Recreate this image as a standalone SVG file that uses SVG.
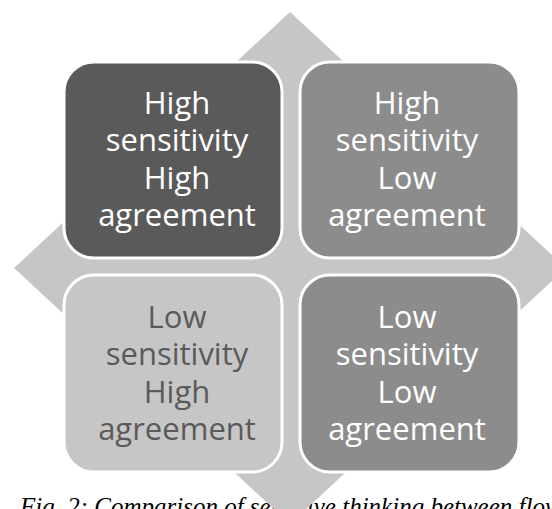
<svg xmlns="http://www.w3.org/2000/svg" width="552" height="509" viewBox="0 0 552 509">
<style>
.box{stroke:#ffffff;stroke-width:3}
.t{font-family:"Open Sans","Noto Sans",sans-serif;font-size:31px;text-anchor:middle}
.w{fill:#ffffff}
.g{fill:#5a5a5a}
.cap{font-family:"Liberation Serif",serif;font-style:italic;font-size:25px;fill:#000000}
</style>
<rect width="552" height="509" fill="#ffffff"/>
<text class="cap" x="20" y="515">Fig. 2: Comparison of sensitive thinking between flows</text>
<g id="connectors">
<polygon points="290,12 566,268 290,524 14,268" fill="#c6c6c6"/>
</g>
<g id="node-tl">
<rect class="box" x="64" y="62" width="218" height="196" rx="30" fill="#5a5a5a"/>
<text class="t w" x="177"><tspan x="177" y="114">High</tspan><tspan x="177" y="151">sensitivity</tspan><tspan x="177" y="189">High</tspan><tspan x="177" y="226">agreement</tspan></text>
</g>
<g id="node-tr">
<rect class="box" x="300" y="62" width="219" height="196" rx="30" fill="#8c8c8c"/>
<text class="t w" x="407"><tspan x="407" y="114">High</tspan><tspan x="407" y="151">sensitivity</tspan><tspan x="407" y="189">Low</tspan><tspan x="407" y="226">agreement</tspan></text>
</g>
<g id="node-bl">
<rect class="box" x="64" y="275" width="218" height="197" rx="30" fill="#c6c6c6"/>
<text class="t g" x="177"><tspan x="177" y="328">Low</tspan><tspan x="177" y="365">sensitivity</tspan><tspan x="177" y="403">High</tspan><tspan x="177" y="440">agreement</tspan></text>
</g>
<g id="node-br">
<rect class="box" x="300" y="275" width="219" height="197" rx="30" fill="#8c8c8c"/>
<text class="t w" x="407"><tspan x="407" y="328">Low</tspan><tspan x="407" y="365">sensitivity</tspan><tspan x="407" y="403">Low</tspan><tspan x="407" y="440">agreement</tspan></text>
</g>
</svg>
